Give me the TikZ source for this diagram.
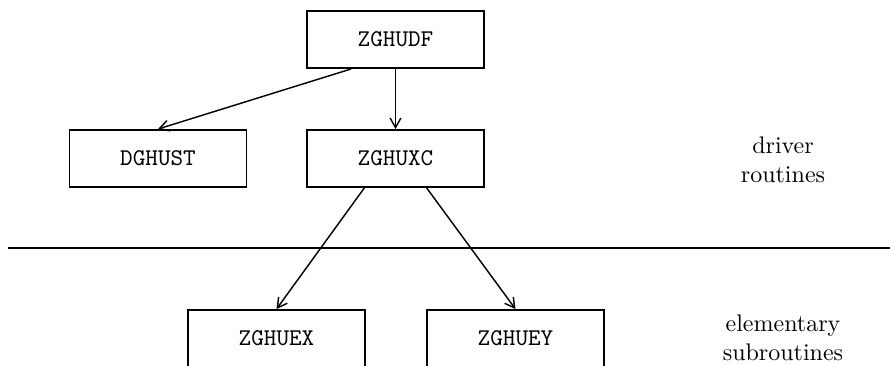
\documentclass[tikz,border=0pt]{standalone}
\usepackage{tikz}
\usetikzlibrary{arrows.meta}
\tikzset{
  routine/.style={draw, line width=0.8pt, minimum width=73.75pt, minimum height=23.75pt, font=\ttfamily},
  level/.style={align=center},
  call/.style={-{Straight Barb[length=4pt, width=4.5pt]}, line width=0.6pt}
}
\newcommand{\leftcol}{158}
\newcommand{\midcol}{395.5}

\begin{document}
\begin{tikzpicture}[x=0.41667pt, y=-0.41667pt]
\useasboundingbox (0,0) rectangle (890,365);

% routines
\node[routine] (zghudf) at (\midcol, 39.5) {ZGHUDF};
\node[routine] (dghust) at (\leftcol, 158.5) {DGHUST};
\node[routine] (zghuxc) at (\midcol, 158.5) {ZGHUXC};
\node[routine] (zghuex) at (276.5, 338.5) {ZGHUEX};
\node[routine] (zghuey) at (515.5, 338.5) {ZGHUEY};

% levels
\node[level] (driver) at (783, 160) {driver\\routines};
\node[level] (elem) at (783, 338) {elementary\\subroutines};

% separator
\coordinate (sepL) at (8, 248);
\coordinate (sepR) at (890, 248);
\draw[line width=0.8pt] (sepL) -- (sepR);

% calls
\draw[call] ([xshift=-18.5pt]zghudf.south) -- (dghust.north);
\draw[call] (zghudf.south) -- (zghuxc.north);
\draw[call] ([xshift=-13pt]zghuxc.south) -- (zghuex.north);
\draw[call] ([xshift=13pt]zghuxc.south) -- (zghuey.north);
\end{tikzpicture}
\end{document}
